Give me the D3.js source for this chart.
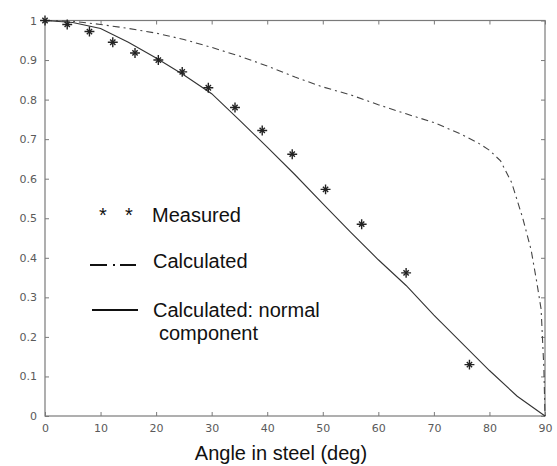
<!DOCTYPE html>
<html lang="en">
<head>
    <meta charset="UTF-8">
    <title>Angle in steel</title>
    <script src="https://d3js.org/d3.v7.min.js"></script>
    <style>
        body {
            margin: 0;
            padding: 0;
            background-color: white;
        }
        svg {
            display: block;
        }
        .tick text {
            font-family: 'DejaVu Sans', sans-serif;
            font-size: 11px;
            fill: #5a5a5a;
        }
        .legend text, .xlabel {
            font-family: 'Liberation Sans', Arial, sans-serif;
            font-size: 20px;
            fill: #111;
        }
    </style>
</head>
<body>
    <svg width="557" height="466"></svg>

    <script>
        // measured points (angle in deg, value)
        const measuredAngle = [0, 4, 8, 12.2, 16.2, 20.4, 24.7, 29.4, 34.2, 39.1, 44.5, 50.5, 57, 65, 76.4];
        const measuredValue = [1, 0.99, 0.972, 0.945, 0.918, 0.9, 0.87, 0.83, 0.78, 0.722, 0.662, 0.573, 0.485, 0.362, 0.13];

        // calculated (dash-dot)
        const calcAngle = [0, 5, 10, 15, 20, 25, 30, 35, 40, 45, 50, 55, 60, 65, 70, 75, 78, 80, 82, 84, 86, 87.5, 88.5, 89.3, 89.8, 90];
        const calcValue = [1, 0.998, 0.99, 0.98, 0.968, 0.952, 0.932, 0.91, 0.885, 0.857, 0.832, 0.812, 0.787, 0.764, 0.742, 0.712, 0.69, 0.672, 0.645, 0.59, 0.5, 0.42, 0.34, 0.27, 0.12, 0];

        // calculated: normal component (solid)
        const normAngle = [0, 5, 10, 15, 20, 25, 30, 35, 40, 45, 50, 55, 60, 65, 70, 75, 80, 85, 90];
        const normValue = [1, 0.995, 0.98, 0.945, 0.905, 0.862, 0.815, 0.748, 0.68, 0.61, 0.537, 0.465, 0.395, 0.33, 0.255, 0.185, 0.115, 0.05, 0];

        const xTicks = [0, 10, 20, 30, 40, 50, 60, 70, 80, 90];
        const yTicks = [0, 0.1, 0.2, 0.3, 0.4, 0.5, 0.6, 0.7, 0.8, 0.9, 1];
        const yTickLabels = ["0", "0.1", "0.2", "0.3", "0.4", "0.5", "0.6", "0.7", "0.8", "0.9", "1"];

        const svg = d3.select("svg");
        const axisColor = "#7a7a7a";

        const x = d3.scaleLinear().domain([0, 90]).range([45, 545]);
        const y = d3.scaleLinear().domain([0, 1]).range([416, 20.5]);

        // frame
        svg.append("rect")
            .attr("x", x(0)).attr("y", y(1))
            .attr("width", x(90) - x(0)).attr("height", y(0) - y(1))
            .attr("fill", "none").attr("stroke", axisColor).attr("stroke-width", 1.2);

        function styleAxis(g) {
            g.style("color", axisColor);
            g.select(".domain").remove();
        }

        svg.append("g")
            .attr("transform", `translate(0,${y(0)})`)
            .call(d3.axisBottom(x).tickValues(xTicks).tickSize(-4).tickPadding(8).tickFormat(d3.format("d")))
            .call(styleAxis);

        svg.append("g")
            .attr("transform", `translate(0,${y(1)})`)
            .call(d3.axisTop(x).tickValues(xTicks).tickSize(-4).tickFormat(""))
            .call(styleAxis);

        svg.append("g")
            .attr("transform", `translate(${x(0)},0)`)
            .call(d3.axisLeft(y).tickValues(yTicks).tickSize(-4).tickPadding(8).tickFormat((d, i) => yTickLabels[i]))
            .call(styleAxis);

        svg.append("g")
            .attr("transform", `translate(${x(90)},0)`)
            .call(d3.axisRight(y).tickValues(yTicks).tickSize(-4).tickFormat(""))
            .call(styleAxis);

        const line = d3.line()
            .x(d => x(d[0]))
            .y(d => y(d[1]));

        svg.append("path")
            .datum(calcAngle.map((a, i) => [a, calcValue[i]]))
            .attr("d", line)
            .attr("fill", "none")
            .attr("stroke", "#444")
            .attr("stroke-width", 1.1)
            .attr("stroke-dasharray", "7,4,2,4");

        svg.append("path")
            .datum(normAngle.map((a, i) => [a, normValue[i]]))
            .attr("d", line)
            .attr("fill", "none")
            .attr("stroke", "#333")
            .attr("stroke-width", 1.1);

        const plus = d3.symbol().type(d3.symbolPlus).size(34);
        const times = d3.symbol().type(d3.symbolTimes).size(20);
        const pts = measuredAngle.map((a, i) => [a, measuredValue[i]]);

        const mk = svg.selectAll(".marker")
            .data(pts)
            .enter().append("g")
            .attr("class", "marker")
            .attr("transform", d => `translate(${x(d[0])},${y(d[1])})`);
        mk.append("path").attr("d", plus).attr("fill", "none").attr("stroke", "#222").attr("stroke-width", 1.4);
        mk.append("path").attr("d", times).attr("fill", "none").attr("stroke", "#222").attr("stroke-width", 1.4);

        // legend
        const legend = svg.append("g").attr("class", "legend");
        legend.append("text").attr("x", 103).attr("y", 222).attr("text-anchor", "middle").text("*");
        legend.append("text").attr("x", 129).attr("y", 222).attr("text-anchor", "middle").text("*");
        legend.append("text").attr("x", 152).attr("y", 222).text("Measured");

        legend.append("line")
            .attr("x1", 90).attr("x2", 136).attr("y1", 265).attr("y2", 265)
            .attr("stroke", "#111").attr("stroke-width", 2)
            .attr("stroke-dasharray", "17,6,2,5,16");
        legend.append("text").attr("x", 153).attr("y", 268).text("Calculated");

        legend.append("line")
            .attr("x1", 92).attr("x2", 138).attr("y1", 310).attr("y2", 310)
            .attr("stroke", "#111").attr("stroke-width", 2);
        legend.append("text").attr("x", 153).attr("y", 317).text("Calculated: normal");
        legend.append("text").attr("x", 159).attr("y", 340).text("component");

        svg.append("text")
            .attr("class", "xlabel")
            .attr("x", 281).attr("y", 460)
            .attr("text-anchor", "middle")
            .text("Angle in steel (deg)");
    </script>
</body>
</html>
